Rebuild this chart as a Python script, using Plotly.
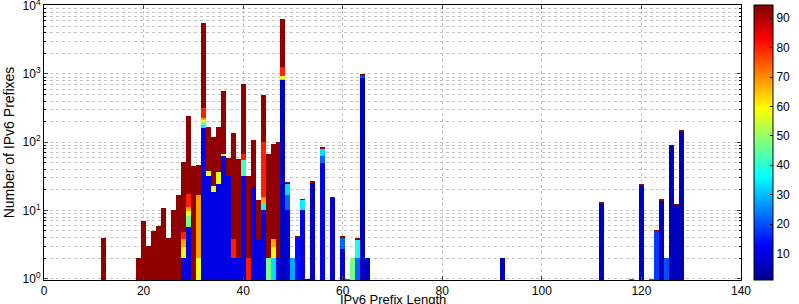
import plotly.graph_objects as go

# ---------------- data ----------------
prefix_lengths = [12, 19, 20, 21, 22, 23, 24, 25, 26, 27, 28, 29, 30, 31, 32, 33, 34, 35,
                  36, 37, 38, 39, 40, 41, 42, 43, 44, 45, 46, 47, 48, 49, 50, 51, 52, 53,
                  54, 56, 58, 60, 61, 62, 63, 64, 65, 92, 112, 118, 120, 122, 123, 124,
                  125, 126, 127, 128]

# cumulative counts at the top of each stacked segment (bottom -> top)
segment_tops = [
    [4], [2], [7], [3], [5], [6], [11], [4], [10], [17],
    [2, 2.9, 3.8, 4.9, 51],                       # 28
    [5.7, 8.4, 9.9, 11.2, 17.3, 240],             # 29
    [45],                                         # 30
    [2, 17, 46],                                  # 31
    [163, 180, 195, 210, 225, 320, 5500],         # 32
    [32, 38, 166],                                # 33
    [18.5, 23, 118],                              # 34
    [24, 36, 166],                                # 35
    [62, 68, 560],                                # 36
    [32, 59],                                     # 37
    [2, 3.8, 137],                                # 38
    [2, 56],                                      # 39
    [32, 55, 66, 700],                            # 40
    [2, 32],                                      # 41
    [22, 106],                                    # 42
    [3.8, 14.3],                                  # 43
    [10, 13, 15.5, 100, 490],                     # 44
    [2, 68],                                      # 45
    [2, 2.9, 3.8, 93],                            # 46
    [2, 100],                                     # 47
    [820, 870, 920, 1250, 6300],                  # 48
    [10, 17, 25, 26.5],                           # 49
    [2],                                          # 50
    [4, 4.1],                                     # 51
    [10, 14.3, 14.6],                             # 52
    [1],                                          # 53
    [26, 27],                                     # 54
    [50, 62, 80, 86],                             # 56
    [15.2, 15.6],                                 # 58
    [2.7, 4, 4.1],                                # 60
    [1],                                          # 61
    [2],                                          # 62
    [2, 3.8, 4],                                  # 63
    [900, 960, 985],                              # 64
    [2],                                          # 65
    [2],                                          # 92
    [12.6, 13],                                   # 112
    [1],                                          # 118
    [23, 23.6],                                   # 120
    [1],                                          # 122
    [5, 5.1],                                     # 123
    [14, 14.4],                                   # 124
    [2],                                          # 125
    [88, 90],                                     # 126
    [12, 12.3],                                   # 127
    [145, 150],                                   # 128
]

# colour value (colour-bar scale) of each segment
segment_levels = [
    [93], [93], [93], [93], [93], [93], [93], [93], [93], [93],
    [10, 58, 68, 80, 93],
    [10, 47, 58, 68, 80, 93],
    [93],
    [58, 68, 93],
    [10, 35, 47, 58, 68, 80, 93],
    [10, 58, 93],
    [10, 58, 93],
    [10, 58, 93],
    [10, 58, 93],
    [10, 93],
    [10, 80, 93],
    [10, 93],
    [10, 42, 80, 93],
    [80, 93],
    [10, 93],
    [10, 93],
    [10, 38, 68, 80, 93],
    [47, 93],
    [33, 58, 68, 93],
    [10, 93],
    [6, 40, 58, 80, 93],
    [10, 22, 33, 93],
    [28],
    [14, 93],
    [10, 35, 93],
    [6],
    [6, 93],
    [10, 22, 33, 93],
    [8, 93],
    [8, 22, 93],
    [80],
    [47],
    [22, 38, 93],
    [6, 20, 93],
    [6],
    [6],
    [6, 93],
    [80],
    [6, 93],
    [80],
    [18, 93],
    [6, 93],
    [20],
    [5, 93],
    [6, 93],
    [5, 93],
]

y_tick_values = [1, 10, 100, 1000, 10000]
y_tick_labels = ["10<sup>0</sup>", "10<sup>1</sup>", "10<sup>2</sup>", "10<sup>3</sup>", "10<sup>4</sup>"]
x_tick_values = [0, 20, 40, 60, 80, 100, 120, 140]
cbar_tick_values = [10, 20, 30, 40, 50, 60, 70, 80, 90]
x_title = "IPv6 Prefix Length"
y_title = "Number of IPv6 Prefixes"

BAR_FLOOR = 0.5

# MATLAB "jet"
jet = [[0.0, "rgb(0,0,143)"], [0.125, "rgb(0,0,255)"], [0.375, "rgb(0,255,255)"],
       [0.625, "rgb(255,255,0)"], [0.875, "rgb(255,0,0)"], [1.0, "rgb(128,0,0)"]]

fig = go.Figure()
n_layers = max(len(t) for t in segment_tops)
for k in range(n_layers):
    xs, bases, heights, cols = [], [], [], []
    for p, tops, levs in zip(prefix_lengths, segment_tops, segment_levels):
        if k < len(tops):
            b = tops[k - 1] if k > 0 else BAR_FLOOR
            xs.append(p)
            bases.append(b)
            heights.append(tops[k] - b)
            cols.append(levs[k])
    fig.add_trace(go.Bar(
        x=xs, y=heights, base=bases, width=1,
        marker=dict(color=cols, coloraxis="coloraxis", line=dict(width=0)),
        showlegend=False, hoverinfo="skip"))

font_family = "Liberation Sans, Arial, sans-serif"
grid_col = "#c4c4c4"

fig.update_layout(
    width=799, height=304,
    margin=dict(l=44, r=58, t=5, b=24),
    paper_bgcolor="white", plot_bgcolor="white",
    barmode="overlay", bargap=0,
    font=dict(family=font_family, size=12, color="black"),
    coloraxis=dict(
        colorscale=jet, cmin=1, cmax=94.5,
        colorbar=dict(
            x=1.0187, xanchor="left", xpad=0, y=0.5, yanchor="middle", ypad=0,
            len=1, lenmode="fraction", thickness=19,
            outlinecolor="black", outlinewidth=1,
            tickvals=cbar_tick_values, ticks="inside", ticklen=3,
            tickcolor="black", tickfont=dict(size=12, family=font_family)),
    ),
    xaxis=dict(
        range=[0, 140], tickvals=x_tick_values, ticks="inside", ticklen=4,
        showline=True, linecolor="black", linewidth=1, mirror="allticks",
        showgrid=True, gridcolor=grid_col, griddash="dot", gridwidth=1,
        zeroline=False, automargin=False,
        tickfont=dict(size=12),
    ),
    yaxis=dict(
        type="log", range=[-0.02, 4.01], tickvals=y_tick_values, ticktext=y_tick_labels,
        ticks="inside", ticklen=4, ticklabeloverflow="allow",
        showline=True, linecolor="black", linewidth=1, mirror="allticks",
        showgrid=True, gridcolor=grid_col, griddash="dot", gridwidth=1,
        zeroline=False, automargin=False,
        minor=dict(ticks="inside", ticklen=2, tickcolor="black", showgrid=True,
                   gridcolor=grid_col, griddash="dot", dtick="D1"),
        title=dict(text=y_title, font=dict(size=14), standoff=4),
        tickfont=dict(size=12),
    ),
    annotations=[dict(
        text=x_title, xref="paper", yref="paper", x=0.5, y=-0.041,
        xanchor="center", yanchor="top", showarrow=False,
        font=dict(size=13, family=font_family), borderpad=0)],
)

fig.write_html("out.html")
